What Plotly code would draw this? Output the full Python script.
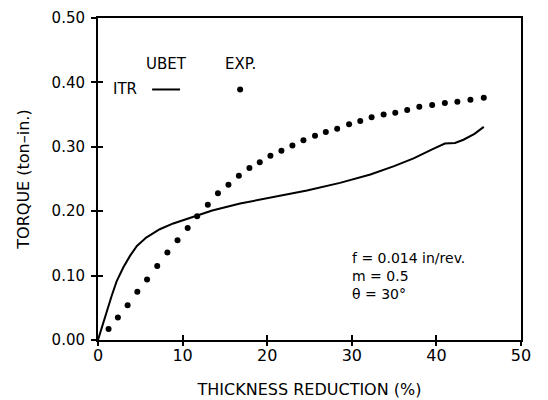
import plotly.graph_objects as go

# ---- data ----
exp_x = [1.25, 2.35, 3.5, 4.65, 5.8, 7.0, 8.2, 9.4, 10.6, 11.72, 12.98, 14.18,
         15.42, 16.65, 17.9, 19.12, 20.38, 21.68, 22.98, 24.28, 25.65, 26.93,
         28.27, 29.68, 31.0, 32.34, 33.76, 35.14, 36.55, 37.98, 39.5, 41.0,
         42.48, 44.02, 45.6]
exp_y = [0.017, 0.035, 0.054, 0.075, 0.094, 0.115, 0.136, 0.155, 0.174, 0.192,
         0.210, 0.228, 0.241, 0.255, 0.267, 0.276, 0.286, 0.294, 0.302, 0.310,
         0.317, 0.323, 0.328, 0.335, 0.340, 0.346, 0.350, 0.353, 0.357, 0.362,
         0.365, 0.368, 0.370, 0.373, 0.376]

ubet_x = [0, 0.5, 1.0, 1.6, 2.2, 3.0, 3.8, 4.6, 5.7, 7.3, 8.9, 10.5, 12.0, 13.5,
          16.8, 20.7, 24.7, 28.6, 32.2, 35.0, 37.3, 39.5, 41.0, 42.2, 43.2,
          44.5, 45.6]
ubet_y = [0, 0.022, 0.042, 0.068, 0.091, 0.113, 0.131, 0.146, 0.159, 0.172,
          0.181, 0.188, 0.195, 0.201, 0.212, 0.222, 0.232, 0.244, 0.257, 0.270,
          0.282, 0.296, 0.305, 0.306, 0.311, 0.320, 0.331]

x_ticks = [0, 10, 20, 30, 40, 50]
y_ticks = [0.0, 0.1, 0.2, 0.3, 0.4, 0.5]
x_range = [0, 50]
y_range = [0, 0.5]

FONT = "DejaVu Sans"

fig = go.Figure()
fig.add_trace(go.Scatter(x=ubet_x, y=ubet_y, mode="lines",
                         line=dict(color="black", width=2), showlegend=False))
fig.add_trace(go.Scatter(x=exp_x, y=exp_y, mode="markers",
                         marker=dict(color="black", size=6), showlegend=False))
# invisible copy on the overlay axes so their crossing tick marks are drawn
fig.add_trace(go.Scatter(x=exp_x, y=exp_y, xaxis="x2", yaxis="y2",
                         mode="markers", marker=dict(opacity=0),
                         hoverinfo="skip", showlegend=False))

axis_common = dict(showgrid=False, zeroline=False, color="black",
                   automargin=False, ticklabeloverflow="allow")

fig.update_layout(
    width=548, height=400,
    # the page body adds an 8 px offset, so margins are shifted accordingly
    margin=dict(l=90, r=35, t=10, b=68),
    paper_bgcolor="white", plot_bgcolor="white",
    font=dict(family=FONT, size=15, color="black"),
    xaxis=dict(range=x_range, tickvals=x_ticks, ticks="inside", ticklen=5,
               tickwidth=1.5, tickcolor="black",
               showline=True, linewidth=2, linecolor="black", mirror=True,
               tickfont=dict(size=16),
               title=dict(text="THICKNESS REDUCTION (%)", font=dict(size=16),
                          standoff=20),
               **axis_common),
    yaxis=dict(range=y_range, tickvals=y_ticks, tickformat=".2f",
               ticks="outside", ticklen=5, tickwidth=1.5, tickcolor="black",
               ticklabelstandoff=3,
               showline=True, linewidth=2, linecolor="black", mirror=True,
               tickfont=dict(size=15),
               title=dict(text="TORQUE (ton–in.)", font=dict(size=16),
                          standoff=18),
               **axis_common),
    xaxis2=dict(range=x_range, tickvals=x_ticks, overlaying="x", side="bottom",
                ticks="outside", ticklen=5, tickwidth=1.5, tickcolor="black",
                showticklabels=False, showline=False, **axis_common),
    yaxis2=dict(range=y_range, tickvals=y_ticks, overlaying="y", side="left",
                ticks="inside", ticklen=5, tickwidth=1.5, tickcolor="black",
                showticklabels=False, showline=False, **axis_common),
)

# custom legend
fig.add_annotation(x=8.1, y=0.428, text="UBET", showarrow=False,
                   font=dict(size=15), xanchor="center", yanchor="middle")
fig.add_annotation(x=16.8, y=0.428, text="EXP.", showarrow=False,
                   font=dict(size=15), xanchor="center", yanchor="middle")
fig.add_annotation(x=3.2, y=0.389, text="ITR", showarrow=False,
                   font=dict(size=15), xanchor="center", yanchor="middle")
fig.add_shape(type="line", xref="x", yref="y", x0=6.4, x1=9.7, y0=0.389,
              y1=0.389, line=dict(color="black", width=2))
fig.add_shape(type="circle", xref="x", yref="y", xsizemode="pixel",
              ysizemode="pixel", xanchor=16.8, yanchor=0.389,
              x0=-3, x1=3, y0=-3, y1=3, fillcolor="black",
              line=dict(color="black", width=0))

# parameter text
fig.add_annotation(x=29.8, y=0.100,
                   text="f = 0.014 in/rev.<br>m = 0.5<br>θ = 30°",
                   showarrow=False, align="left",
                   font=dict(size=14), xanchor="left", yanchor="middle")

fig.write_html("out.html")
